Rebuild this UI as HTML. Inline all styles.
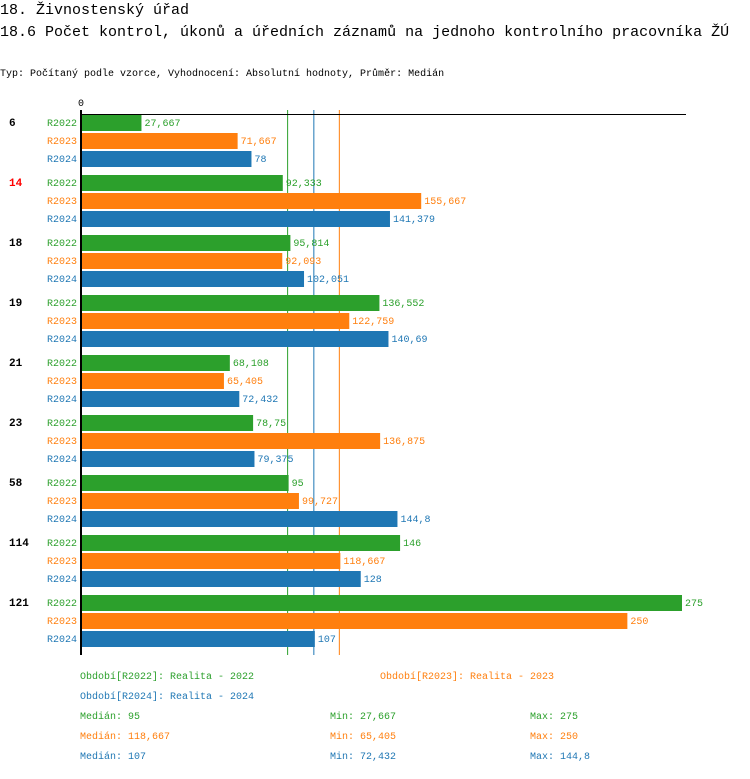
<!DOCTYPE html>
<html><head><meta charset="utf-8"><style>
body{margin:0;background:#fff;width:750px;height:774px;overflow:hidden;font-family:"Liberation Mono",monospace}
svg text{font-family:"Liberation Mono",monospace}
</style></head><body>
<svg width="750" height="774">
<text x="0" y="14" font-size="15">18. Živnostenský úřad</text>
<text x="0" y="36" font-size="15">18.6 Počet kontrol, úkonů a úředních záznamů na jednoho kontrolního pracovníka ŽÚ</text>
<text x="0" y="76" font-size="10">Typ: Počítaný podle vzorce, Vyhodnocení: Absolutní hodnoty, Průměr: Medián</text>
<g id="plot"></g>
<g id="legend"></g>
</svg>
<script>
const categories=["6","14","18","19","21","23","58","114","121"];
const highlighted=["14"];
const seriesNames=["R2022","R2023","R2024"];
const r2022=[27.667,92.333,95.814,136.552,68.108,78.75,95,146,275];
const r2023=[71.667,155.667,92.093,122.759,65.405,136.875,99.727,118.667,250];
const r2024=[78,141.379,102.051,140.69,72.432,79.375,144.8,128,107];
const medians=[95,118.667,107];
const colors=["#2ca02c","#ff7f0e","#1f77b4"];
const series=[r2022,r2023,r2024];
const NS="http://www.w3.org/2000/svg";
const x0=81,scale=601/275;
const xs=v=>x0+v*scale;
const plot=document.getElementById('plot');
function mk(tag,attrs,parent){const e=document.createElementNS(NS,tag);for(const k in attrs)e.setAttribute(k,attrs[k]);(parent||plot).appendChild(e);return e;}
const fmt=v=>String(v).replace('.',',');
medians.forEach((m,i)=>{const l=mk('line',{x1:xs(m)-1,x2:xs(m)-1,y1:110,y2:655,stroke:colors[i],'stroke-width':1});

});
categories.forEach((c,g)=>{
 const base=115+g*60;
 const t=mk('text',{x:9,y:base+11,'font-size':11,'font-weight':'bold',fill:highlighted.includes(c)?'#ff0000':'#000'});
 t.textContent=c;
 
 
 series.forEach((s,i)=>{
  const y=base+i*18;
  const lab=mk('text',{x:47,y:y+11,'font-size':10,fill:colors[i]});
  lab.textContent=seriesNames[i];
  
  
  const r=mk('rect',{x:x0,y:y,width:xs(s[g])-x0,height:16,fill:colors[i]});
  
  
  const v=mk('text',{x:xs(s[g])+3,y:y+11,'font-size':10,fill:colors[i]});
  v.textContent=fmt(s[g]);
  
  
 });
});
const ax=mk('line',{x1:81,x2:81,y1:110,y2:655,stroke:'#000','stroke-width':2});


const tx=mk('line',{x1:80,x2:686,y1:114.5,y2:114.5,stroke:'#000','stroke-width':1});


const z=mk('text',{x:78,y:106,'font-size':10});
z.textContent='0';


const lg=document.getElementById('legend');
const items=[[80,679,0,'Období[R2022]: Realita - 2022'],[380,679,1,'Období[R2023]: Realita - 2023'],[80,699,2,'Období[R2024]: Realita - 2024']];
items.forEach(it=>{const e=mk('text',{x:it[0],y:it[1],'font-size':10,fill:colors[it[2]]},lg);e.textContent=it[3];

});
series.forEach((s,i)=>{const y=719+i*20;
 [[80,'Medián: '+fmt(medians[i])],[330,'Min: '+fmt(Math.min(...s))],[530,'Max: '+fmt(Math.max(...s))]].forEach(p=>{
 const e=mk('text',{x:p[0],y:y,'font-size':10,fill:colors[i]},lg);e.textContent=p[1];
 
 });
});
</script>
</body></html>
